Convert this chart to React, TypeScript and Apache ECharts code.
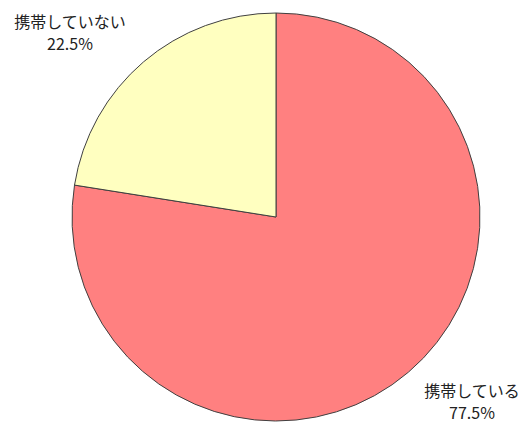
import React, { useEffect, useRef } from "react";
import * as echarts from "echarts";

const categories = ["携帯している", "携帯していない"];
const values = [77.5, 22.5];
const colors = ["#FF8080", "#FFFFC0"];

const labelPos = [
  { x: 472, y: 401 },
  { x: 70, y: 32 },
];

export default function App() {
  const ref = useRef<HTMLDivElement>(null);
  useEffect(() => {
    if (!ref.current) return;
    const chart = echarts.init(ref.current, null, { renderer: "svg" });
    chart.setOption({
      animation: false,
      backgroundColor: "#ffffff",
      series: [
        {
          type: "pie",
          center: [276, 217],
          radius: 204,
          startAngle: 90,
          clockwise: true,
          silent: true,
          data: categories.map((name, i) => ({
            name,
            value: values[i],
            itemStyle: { color: colors[i] },
          })),
          itemStyle: { borderColor: "#404040", borderWidth: 1 },
          label: {
            show: true,
            formatter: "{b}\n{c}%",
            color: "#222",
            fontFamily: "Noto Sans CJK JP",
            fontSize: 16,
            lineHeight: 22,
            align: "center",
            overflow: "none",
            width: 140,
          },
          labelLine: { show: false },
          labelLayout: (params: any) => ({
            x: labelPos[params.dataIndex].x,
            y: labelPos[params.dataIndex].y,
            align: "center",
            verticalAlign: "middle",
          }),
        },
      ],
    });
    return () => chart.dispose();
  }, []);
  return (
    <div
      ref={ref}
      style={{ width: 525, height: 423, position: "absolute", left: 0, top: 0 }}
    />
  );
}
